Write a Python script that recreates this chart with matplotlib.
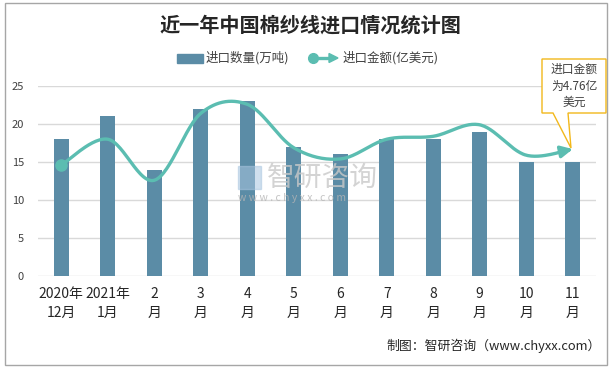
import numpy as np
import matplotlib
matplotlib.use("Agg")
import matplotlib.pyplot as plt
from matplotlib.patches import Rectangle, Polygon

plt.rcParams['font.family'] = ['Noto Sans CJK SC', 'DejaVu Sans']

categories = ["2020年\n12月", "2021年\n1月", "2\n月", "3\n月", "4\n月", "5\n月",
              "6\n月", "7\n月", "8\n月", "9\n月", "10\n月", "11\n月"]
quantity = [18, 21, 14, 22, 23, 17, 16, 18, 18, 19, 15, 15]          # 万吨
amount = [4.16, 5.13, 3.59, 6.10, 6.44, 4.81, 4.39, 5.13, 5.24, 5.67, 4.53, 4.76]  # 亿美元

W, H = 614, 368
fig = plt.figure(figsize=(W / 100, H / 100), dpi=100)

def fx(px):
    return px / W

def fy(py):
    return 1 - py / H

# outer frame
fig.patches.append(Rectangle((fx(5), fy(365)), fx(602), 362 / H, transform=fig.transFigure,
                             fill=False, edgecolor='#a6a6a6', lw=1.0))

ax = fig.add_axes([fx(38), fy(276), fx(558), 190 / H])
x = np.arange(len(categories))
bar_color = '#5b8ca6'
line_color = '#5bbdb1'
ax.bar(x, quantity, width=0.33, color=bar_color, zorder=2)
ax.set_xlim(-0.5, len(categories) - 0.5)
ax.set_ylim(0, 25)
ax.set_yticks(range(0, 26, 5))
ax.yaxis.grid(True, color='#d9d9d9', lw=1)
ax.set_axisbelow(True)
for s in ax.spines.values():
    s.set_visible(False)
ax.tick_params(axis='y', length=0, labelsize=8, colors='#404040', pad=10)
ax.tick_params(axis='x', length=0, labelsize=10, colors='#262626', pad=8)
ax.set_xticks(x)
ax.set_xticklabels(categories, linespacing=1.45)

# secondary (hidden) axis for amount
ax2 = ax.twinx()
ax2.set_ylim(0, 25 * 4.76 / 16.7)
ax2.axis('off')

# Catmull-Rom smoothing for display (Excel-like smooth line)
pts = np.column_stack([x.astype(float), np.array(amount, float)])
ext = np.vstack([pts[0], pts, pts[-1]])
curve = []
for i in range(1, len(ext) - 2):
    p0, p1, p2, p3 = ext[i - 1], ext[i], ext[i + 1], ext[i + 2]
    for t in np.linspace(0, 1, 30, endpoint=False):
        t2, t3 = t * t, t * t * t
        c = 0.5 * ((2 * p1) + (-p0 + p2) * t + (2 * p0 - 5 * p1 + 4 * p2 - p3) * t2
                   + (-p0 + 3 * p1 - 3 * p2 + p3) * t3)
        curve.append(c)
curve.append(pts[-1])
curve = np.array(curve)
ax2.plot(curve[:-4, 0], curve[:-4, 1], color=line_color, lw=2.4, solid_capstyle='round', zorder=3)
ax2.plot([pts[0, 0]], [pts[0, 1]], 'o', color=line_color, ms=8, zorder=4)
ax2.annotate('', xy=(curve[-1, 0], curve[-1, 1]), xytext=(curve[-6, 0], curve[-6, 1]),
             arrowprops=dict(arrowstyle='-|>,head_length=0.7,head_width=0.35',
                             color=line_color, lw=2.4, shrinkA=0, shrinkB=0), zorder=4)

# title
fig.text(fx(310), fy(25), "近一年中国棉纱线进口情况统计图", ha='center', va='center',
         fontsize=14.5, fontweight='bold', color='#262626')

# legend (manual)
fig.patches.append(Rectangle((fx(177), fy(63)), fx(26), 9 / H, transform=fig.transFigure,
                             color=bar_color))
fig.text(fx(206), fy(58), "进口数量(万吨)", ha='left', va='center', fontsize=9, color='#404040')
fig.lines.append(plt.Line2D([fx(313), fx(330)], [fy(58), fy(58)], transform=fig.transFigure,
                            color=line_color, lw=2.4))
fig.lines.append(plt.Line2D([fx(313)], [fy(58)], transform=fig.transFigure, marker='o',
                            ms=7, color=line_color))
fig.patches.append(Polygon([[fx(329), fy(53.5)], [fx(338), fy(58)], [fx(329), fy(62.5)]],
                           closed=True, transform=fig.transFigure, color=line_color))
fig.text(fx(343), fy(58), "进口金额(亿美元)", ha='left', va='center', fontsize=9, color='#404040')

# watermark
fig.text(fx(267), fy(178), "智研咨询", ha='left', va='center', fontsize=20, color='#c9c9c9',
         alpha=0.8, zorder=5)
fig.text(fx(238), fy(198), "w w w . c h y x x . c o m", ha='left', va='center', fontsize=7.5,
         color='#b5b5b5', alpha=0.8, zorder=5)
fig.patches.append(Rectangle((fx(238), fy(189)), fx(23), 23 / H, transform=fig.transFigure,
                             color='#a9c6e0', alpha=0.55, zorder=5))

# callout
box = [[fx(542), fy(59)], [fx(606), fy(59)], [fx(606), fy(113)], [fx(568), fy(113)],
       [fx(571), fy(148)], [fx(553), fy(113)], [fx(542), fy(113)]]
fig.patches.append(Polygon(box, closed=True, transform=fig.transFigure, facecolor='white',
                           edgecolor='#f2b81c', lw=1.0, zorder=6))
fig.text(fx(574), fy(86), "进口金额\n为4.76亿\n美元", ha='center', va='center', fontsize=8.5,
         color='#404040', linespacing=1.35, zorder=7)

# source
fig.text(fx(601), fy(346), "制图：智研咨询（www.chyxx.com）", ha='right', va='center',
         fontsize=9.3, color='#262626')

fig.savefig("out.png", dpi=100)
